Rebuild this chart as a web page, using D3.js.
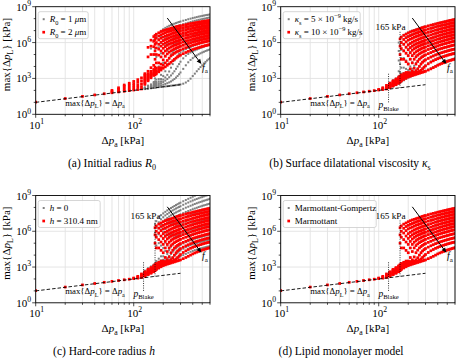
<!DOCTYPE html>
<html><head><meta charset="utf-8">
<script src="https://cdn.jsdelivr.net/npm/d3@7"></script>
<style>
body{margin:0;background:#fff}
svg{display:block}
text{font-family:"Liberation Serif","Times New Roman",serif;white-space:pre;fill:#000}
</style>
</head><body>
<svg id="c" width="456" height="359" font-family="Liberation Serif, serif"></svg>
<script>
// ---------------- DATA (values are log10 of max{Δp_L} in kPa) ----------------
const pressureLow  = [10,20,30,40,50,60,70,80,90,100,110,120];
const pressureHigh = [130,140,150,160,165,170,180,190,200,210,220,230,240,250,260,270,280,290,300,
                      320,340,360,380,400,420,440,460,480,500,520,540,560,580,600];
const xGridTicks   = [10,20,30,40,50,60,70,80,90,100,200,300,400,500,600];
const xLabelTicks  = [10,100];
const yLabelExps   = [0,3,6,9];
const yMinorExps   = [1,2,4,5,7,8];
const pBlake = 126;
const pInertial = 165;

// low-pressure columns (one list of values per pressure column)
const lowBase = [[1.02],[1.32],[1.5],[1.62],[1.72],[1.8],[1.87],[1.93],[1.98],[2.03],[2.07],[2.12]];
const lowStd  = [[1.02],[1.32],[1.5],[1.62],[1.72],[1.8],[1.87],[1.93],[1.98],[2.03,2.08],[2.07,2.15,2.22],[2.12,2.22,2.32,2.42]];
const lowR2   = [[1.02],[1.32],[1.5],[1.62],[1.72],[1.8,1.9,2.0],[1.87,1.98,2.1,2.22],[1.93,2.05,2.2,2.35,2.45],
                 [1.98,2.12,2.28,2.45,2.6],[2.03,2.2,2.38,2.56,2.75],[2.07,2.26,2.46,2.68,2.9],[2.12,2.32,2.55,2.8,3.05]];

// high-pressure curves (one per driving frequency f_a, lowest f first)
const highStd = [
 [2.6,2.8,2.95,3.1,6.3,6.45,6.6,6.7,6.8,6.88,6.95,7.0,7.05,7.1,7.15,7.2,7.25,7.29,7.32,7.39,7.45,7.5,7.55,7.6,7.64,7.68,7.72,7.75,7.79,7.82,7.85,7.88,7.9,7.93],
 [2.55,2.75,2.9,3.05,5.7,6.0,6.25,6.4,6.5,6.58,6.65,6.72,6.78,6.83,6.88,6.93,6.97,7.01,7.05,7.12,7.18,7.24,7.3,7.35,7.39,7.43,7.47,7.5,7.54,7.57,7.6,7.63,7.66,7.68],
 [2.5,2.7,2.85,3.0,5.0,5.5,5.85,6.05,6.2,6.28,6.35,6.43,6.5,6.55,6.6,6.65,6.7,6.74,6.78,6.85,6.91,6.97,7.03,7.08,7.13,7.17,7.21,7.25,7.29,7.32,7.35,7.38,7.41,7.43],
 [2.45,2.65,2.8,2.95,3.2,4.6,5.3,5.6,5.8,5.92,6.02,6.11,6.18,6.24,6.3,6.35,6.4,6.44,6.48,6.56,6.63,6.7,6.76,6.82,6.87,6.91,6.95,6.99,7.03,7.06,7.09,7.12,7.15,7.18],
 [2.42,2.6,2.75,2.9,3.1,3.3,4.6,5.1,5.4,5.57,5.7,5.8,5.88,5.94,6.0,6.05,6.1,6.15,6.2,6.28,6.35,6.42,6.49,6.55,6.6,6.65,6.69,6.73,6.77,6.8,6.84,6.87,6.9,6.92],
 [2.4,2.57,2.72,2.85,3.05,3.2,3.4,4.4,4.9,5.15,5.35,5.48,5.58,5.66,5.72,5.78,5.83,5.88,5.92,6.0,6.08,6.15,6.22,6.28,6.33,6.38,6.43,6.47,6.51,6.55,6.58,6.61,6.64,6.67],
 [2.37,2.53,2.68,2.8,2.98,3.12,3.3,3.5,4.2,4.6,4.9,5.08,5.22,5.32,5.4,5.47,5.53,5.58,5.63,5.72,5.8,5.87,5.94,6.0,6.06,6.11,6.16,6.2,6.24,6.28,6.32,6.35,6.38,6.41],
 [2.34,2.5,2.64,2.76,2.92,3.05,3.2,3.35,3.5,3.8,4.3,4.6,4.8,4.94,5.05,5.13,5.2,5.26,5.32,5.42,5.5,5.58,5.65,5.72,5.78,5.83,5.88,5.92,5.96,6.0,6.04,6.07,6.1,6.13],
 [2.31,2.47,2.6,2.72,2.86,2.98,3.12,3.25,3.35,3.46,3.6,3.85,4.2,4.42,4.6,4.72,4.82,4.9,4.97,5.07,5.16,5.25,5.33,5.4,5.46,5.51,5.56,5.6,5.64,5.68,5.72,5.75,5.78,5.81],
 [2.28,2.43,2.56,2.68,2.8,2.92,3.05,3.17,3.27,3.35,3.42,3.5,3.6,3.78,4.0,4.2,4.35,4.46,4.55,4.67,4.78,4.87,4.96,5.03,5.1,5.15,5.2,5.25,5.29,5.33,5.37,5.4,5.43,5.46],
 [2.25,2.4,2.52,2.64,2.75,2.86,2.98,3.1,3.2,3.27,3.33,3.39,3.45,3.51,3.58,3.68,3.8,3.93,4.05,4.22,4.36,4.47,4.57,4.65,4.72,4.78,4.83,4.88,4.93,4.97,5.01,5.04,5.07,5.1],
 [2.22,2.37,2.48,2.6,2.7,2.8,2.92,3.02,3.12,3.18,3.24,3.29,3.34,3.39,3.43,3.48,3.52,3.56,3.6,3.7,3.8,3.9,4.0,4.1,4.18,4.25,4.31,4.37,4.42,4.47,4.51,4.55,4.59,4.62]
];
const highR1 = [
 [2.25,2.4,5.5,6.2,6.4,6.55,6.8,6.98,7.12,7.23,7.32,7.4,7.47,7.53,7.58,7.63,7.68,7.72,7.76,7.83,7.89,7.95,8.0,8.05,8.09,8.13,8.17,8.2,8.23,8.26,8.29,8.31,8.33,8.35],
 [2.22,2.35,2.5,5.0,5.5,5.9,6.3,6.55,6.72,6.85,6.96,7.05,7.13,7.2,7.26,7.32,7.37,7.42,7.46,7.54,7.6,7.66,7.72,7.77,7.82,7.86,7.9,7.93,7.96,7.99,8.02,8.05,8.08,8.1],
 [2.2,2.3,2.45,2.7,3.0,4.8,5.6,5.95,6.2,6.37,6.5,6.61,6.7,6.78,6.85,6.91,6.97,7.02,7.07,7.15,7.23,7.29,7.35,7.41,7.46,7.5,7.54,7.58,7.62,7.65,7.68,7.71,7.74,7.76],
 [2.18,2.28,2.4,2.6,2.75,2.9,4.0,5.1,5.55,5.78,5.95,6.09,6.2,6.3,6.38,6.46,6.52,6.58,6.63,6.72,6.81,6.88,6.95,7.01,7.06,7.11,7.16,7.2,7.24,7.27,7.31,7.34,7.37,7.4],
 [2.16,2.25,2.35,2.5,2.6,2.7,2.95,3.3,4.3,4.9,5.3,5.5,5.65,5.77,5.87,5.96,6.03,6.1,6.16,6.26,6.35,6.43,6.5,6.57,6.63,6.68,6.73,6.78,6.82,6.86,6.9,6.93,6.96,6.99],
 [2.15,2.23,2.32,2.42,2.5,2.58,2.75,2.95,3.2,3.6,4.2,4.65,5.0,5.2,5.35,5.46,5.55,5.63,5.7,5.81,5.91,6.0,6.08,6.15,6.21,6.27,6.32,6.37,6.42,6.46,6.5,6.54,6.57,6.6],
 [2.14,2.21,2.29,2.37,2.42,2.48,2.6,2.75,2.9,3.08,3.3,3.58,3.9,4.2,4.5,4.72,4.9,5.04,5.15,5.31,5.44,5.54,5.63,5.71,5.78,5.84,5.9,5.95,6.0,6.05,6.09,6.13,6.17,6.2],
 [2.13,2.19,2.26,2.33,2.37,2.41,2.5,2.6,2.7,2.82,2.95,3.1,3.25,3.42,3.6,3.8,4.0,4.2,4.4,4.68,4.9,5.05,5.17,5.27,5.35,5.42,5.49,5.55,5.61,5.66,5.71,5.75,5.79,5.82],
 [2.12,2.17,2.22,2.27,2.3,2.33,2.38,2.43,2.48,2.54,2.6,2.67,2.75,2.85,2.95,3.07,3.2,3.35,3.5,3.8,4.1,4.35,4.55,4.7,4.83,4.93,5.02,5.1,5.17,5.23,5.29,5.34,5.39,5.43],
 [2.11,2.15,2.18,2.21,2.23,2.24,2.27,2.29,2.31,2.33,2.35,2.37,2.39,2.41,2.42,2.44,2.46,2.48,2.5,2.56,2.66,2.8,2.98,3.2,3.4,3.6,3.78,3.95,4.1,4.25,4.38,4.5,4.6,4.7]
];
const highR2 = [
 [3.4,5.6,6.2,6.5,6.6,6.7,6.82,6.92,7.0,7.05,7.1,7.15,7.2,7.24,7.28,7.32,7.35,7.38,7.4,7.45,7.5,7.55,7.59,7.62,7.65,7.68,7.71,7.73,7.76,7.78,7.8,7.82,7.84,7.86],
 [3.3,4.8,5.7,6.1,6.25,6.38,6.55,6.66,6.75,6.82,6.88,6.93,6.98,7.02,7.06,7.1,7.13,7.16,7.19,7.25,7.3,7.34,7.38,7.42,7.45,7.48,7.51,7.54,7.57,7.59,7.61,7.63,7.65,7.67],
 [3.2,3.6,5.0,5.65,5.85,6.0,6.22,6.36,6.46,6.54,6.6,6.66,6.72,6.77,6.81,6.85,6.89,6.92,6.95,7.01,7.07,7.11,7.16,7.2,7.24,7.27,7.3,7.33,7.36,7.38,7.41,7.43,7.45,7.47],
 [3.1,3.4,3.9,5.0,5.3,5.55,5.85,6.03,6.16,6.25,6.33,6.4,6.46,6.51,6.56,6.6,6.64,6.68,6.71,6.77,6.83,6.88,6.93,6.98,7.02,7.05,7.08,7.11,7.14,7.17,7.2,7.22,7.24,7.26],
 [3.0,3.3,3.6,4.1,4.6,5.0,5.45,5.7,5.86,5.97,6.06,6.14,6.2,6.25,6.3,6.35,6.39,6.43,6.47,6.54,6.6,6.65,6.7,6.75,6.79,6.83,6.87,6.9,6.93,6.96,6.99,7.01,7.03,7.05],
 [2.9,3.2,3.45,3.75,3.95,4.3,4.95,5.3,5.52,5.66,5.77,5.86,5.93,5.99,6.05,6.1,6.14,6.18,6.22,6.29,6.36,6.42,6.47,6.52,6.56,6.6,6.64,6.68,6.71,6.74,6.77,6.79,6.82,6.84],
 [2.8,3.1,3.35,3.6,3.7,3.85,4.3,4.8,5.1,5.3,5.44,5.55,5.63,5.7,5.77,5.82,5.87,5.92,5.96,6.04,6.11,6.17,6.23,6.28,6.33,6.37,6.41,6.45,6.48,6.51,6.54,6.57,6.6,6.62],
 [2.7,3.0,3.25,3.45,3.55,3.65,3.9,4.2,4.55,4.85,5.05,5.19,5.3,5.39,5.47,5.54,5.59,5.64,5.69,5.77,5.86,5.92,5.98,6.04,6.09,6.13,6.17,6.21,6.25,6.28,6.31,6.34,6.37,6.39],
 [2.6,2.9,3.15,3.35,3.42,3.5,3.7,3.9,4.1,4.3,4.5,4.7,4.88,5.0,5.1,5.19,5.26,5.32,5.38,5.48,5.57,5.65,5.72,5.78,5.83,5.88,5.93,5.97,6.01,6.04,6.07,6.1,6.13,6.16],
 [2.5,2.8,3.05,3.25,3.3,3.38,3.55,3.7,3.85,3.97,4.1,4.22,4.35,4.48,4.6,4.7,4.8,4.88,4.95,5.07,5.17,5.26,5.34,5.42,5.48,5.53,5.58,5.63,5.67,5.71,5.75,5.78,5.81,5.84]
];
const highKappa5 = [
 [2.65,2.85,3.0,6.0,6.35,6.5,6.65,6.75,6.85,6.93,7.0,7.05,7.1,7.15,7.2,7.24,7.28,7.32,7.35,7.41,7.48,7.53,7.58,7.63,7.67,7.7,7.74,7.77,7.81,7.84,7.87,7.9,7.93,7.95],
 [2.6,2.8,2.95,5.3,5.8,6.05,6.3,6.45,6.55,6.63,6.7,6.76,6.82,6.87,6.92,6.96,7.0,7.04,7.08,7.15,7.21,7.27,7.33,7.38,7.42,7.46,7.5,7.53,7.57,7.6,7.63,7.65,7.68,7.7],
 [2.55,2.75,2.9,4.5,5.0,5.4,5.85,6.08,6.22,6.32,6.4,6.47,6.53,6.58,6.63,6.68,6.72,6.76,6.8,6.87,6.93,6.99,7.05,7.1,7.15,7.19,7.23,7.27,7.31,7.34,7.37,7.4,7.43,7.45],
 [2.5,2.7,2.85,3.6,4.2,4.7,5.35,5.65,5.85,5.97,6.06,6.14,6.2,6.26,6.32,6.37,6.42,6.46,6.5,6.58,6.66,6.72,6.78,6.84,6.89,6.93,6.97,7.01,7.05,7.08,7.11,7.14,7.17,7.2],
 [2.45,2.63,2.8,3.2,3.5,3.9,4.7,5.15,5.45,5.62,5.74,5.83,5.9,5.96,6.02,6.07,6.12,6.17,6.21,6.29,6.37,6.44,6.5,6.56,6.61,6.66,6.71,6.75,6.79,6.82,6.85,6.88,6.91,6.93],
 [2.4,2.57,2.72,3.0,3.2,3.4,3.9,4.5,4.95,5.22,5.4,5.51,5.6,5.68,5.74,5.8,5.85,5.9,5.94,6.02,6.1,6.17,6.24,6.3,6.35,6.4,6.45,6.49,6.53,6.56,6.59,6.62,6.65,6.68],
 [2.35,2.5,2.65,2.85,3.0,3.15,3.45,3.8,4.25,4.65,4.95,5.12,5.25,5.34,5.42,5.49,5.55,5.6,5.65,5.74,5.82,5.89,5.96,6.02,6.07,6.12,6.17,6.21,6.25,6.29,6.33,6.36,6.39,6.42],
 [2.3,2.45,2.6,2.75,2.88,3.0,3.25,3.45,3.7,4.0,4.35,4.65,4.85,4.98,5.08,5.16,5.22,5.28,5.33,5.43,5.51,5.59,5.66,5.73,5.79,5.84,5.89,5.93,5.97,6.01,6.05,6.08,6.11,6.14],
 [2.27,2.42,2.55,2.68,2.8,2.9,3.1,3.28,3.42,3.58,3.8,4.05,4.3,4.5,4.65,4.76,4.85,4.93,4.99,5.09,5.18,5.27,5.35,5.42,5.48,5.53,5.58,5.62,5.66,5.7,5.74,5.77,5.8,5.83],
 [2.24,2.38,2.5,2.62,2.72,2.82,2.98,3.12,3.25,3.37,3.48,3.58,3.7,3.86,4.05,4.24,4.4,4.51,4.6,4.72,4.83,4.92,5.0,5.08,5.14,5.19,5.24,5.28,5.32,5.36,5.4,5.43,5.46,5.49],
 [2.22,2.35,2.47,2.58,2.68,2.77,2.9,3.03,3.15,3.25,3.33,3.41,3.48,3.55,3.62,3.72,3.85,3.98,4.1,4.27,4.42,4.52,4.62,4.7,4.76,4.82,4.87,4.92,4.97,5.01,5.05,5.08,5.11,5.14],
 [2.2,2.33,2.44,2.55,2.64,2.72,2.84,2.96,3.06,3.14,3.22,3.29,3.35,3.4,3.45,3.5,3.55,3.6,3.65,3.75,3.85,3.95,4.05,4.15,4.23,4.3,4.36,4.42,4.47,4.52,4.56,4.6,4.64,4.67]
];
const highH0 = [
 [2.7,2.9,3.05,3.2,6.6,6.85,7.15,7.35,7.5,7.63,7.75,7.86,7.95,8.04,8.12,8.2,8.27,8.34,8.4,8.52,8.62,8.72,8.81,8.9,8.98,9.05,9.11,9.17,9.23,9.28,9.33,9.37,9.41,9.45],
 [2.65,2.85,3.0,3.15,5.9,6.3,6.75,7.0,7.18,7.33,7.45,7.56,7.66,7.75,7.83,7.91,7.98,8.04,8.1,8.22,8.32,8.41,8.5,8.58,8.65,8.71,8.77,8.83,8.88,8.93,8.98,9.02,9.06,9.1],
 [2.6,2.8,2.95,3.1,5.0,5.7,6.3,6.6,6.82,6.98,7.12,7.24,7.34,7.43,7.51,7.58,7.65,7.71,7.77,7.88,7.98,8.06,8.14,8.22,8.29,8.35,8.41,8.46,8.51,8.56,8.6,8.64,8.68,8.72],
 [2.55,2.75,2.9,3.05,3.3,4.8,5.75,6.15,6.42,6.61,6.76,6.88,6.99,7.08,7.16,7.23,7.3,7.36,7.42,7.52,7.62,7.7,7.78,7.85,7.91,7.97,8.03,8.08,8.13,8.17,8.21,8.25,8.29,8.32],
 [2.5,2.7,2.85,3.0,3.2,3.5,5.0,5.6,5.95,6.18,6.36,6.49,6.6,6.7,6.78,6.85,6.92,6.98,7.04,7.14,7.23,7.31,7.39,7.46,7.52,7.58,7.63,7.68,7.73,7.77,7.81,7.85,7.89,7.92],
 [2.46,2.65,2.8,2.95,3.1,3.3,3.7,4.8,5.35,5.67,5.9,6.05,6.18,6.28,6.37,6.45,6.51,6.57,6.63,6.73,6.82,6.9,6.97,7.04,7.1,7.16,7.21,7.26,7.31,7.35,7.39,7.42,7.46,7.49],
 [2.42,2.6,2.75,2.9,3.02,3.15,3.45,3.9,4.6,5.05,5.4,5.6,5.75,5.86,5.95,6.03,6.09,6.15,6.21,6.31,6.4,6.48,6.55,6.62,6.68,6.73,6.78,6.83,6.87,6.91,6.95,6.98,7.02,7.05],
 [2.38,2.55,2.7,2.85,2.95,3.05,3.3,3.55,3.9,4.35,4.8,5.05,5.25,5.39,5.5,5.59,5.66,5.72,5.78,5.88,5.97,6.05,6.12,6.19,6.25,6.3,6.35,6.39,6.43,6.47,6.51,6.54,6.57,6.6],
 [2.34,2.5,2.65,2.8,2.88,2.97,3.17,3.38,3.6,3.82,4.1,4.42,4.7,4.87,5.0,5.11,5.2,5.27,5.33,5.44,5.53,5.61,5.68,5.75,5.81,5.86,5.91,5.95,5.99,6.03,6.07,6.1,6.13,6.16],
 [2.3,2.46,2.6,2.74,2.82,2.9,3.07,3.25,3.42,3.58,3.75,3.92,4.1,4.28,4.45,4.59,4.7,4.79,4.86,4.98,5.08,5.16,5.24,5.31,5.37,5.42,5.47,5.51,5.55,5.59,5.63,5.66,5.69,5.72],
 [2.27,2.42,2.55,2.68,2.75,2.83,2.98,3.13,3.27,3.39,3.5,3.61,3.72,3.83,3.95,4.08,4.2,4.31,4.4,4.54,4.66,4.74,4.83,4.9,4.96,5.01,5.06,5.1,5.14,5.18,5.22,5.25,5.28,5.31],
 [2.24,2.38,2.5,2.62,2.69,2.76,2.89,3.02,3.13,3.23,3.32,3.4,3.48,3.55,3.62,3.69,3.76,3.83,3.9,4.0,4.1,4.2,4.28,4.35,4.41,4.46,4.51,4.55,4.59,4.63,4.67,4.7,4.73,4.75]
];

const GREY = "#808080", RED = "#ff0000";

// ---------------- LAYOUT ----------------
const svg = d3.select("#c");
const PW = 174.3;
const panels = [
 {L:35.7, T:6.7, B:114.3, capX:112, capY:166.5, cap:[{t:"(a) Initial radius "},{t:"R",i:1},{t:"0",sub:1}],
  legW:50, leg:[[{t:"R",i:1},{t:"0",sub:1},{t:" = 1 "},{t:"μ",i:1},{t:"m"}],[{t:"R",i:1},{t:"0",sub:1},{t:" = 2 "},{t:"μ",i:1},{t:"m"}]],
  grey:{low:lowBase,high:highR1}, red:{low:lowR2,high:highR2}, marks:false},
 {L:280.7, T:6.7, B:114.3, capX:350, capY:166.5, cap:[{t:"(b) Surface dilatational viscosity "},{t:"κ",i:1},{t:"s",sub:1}],
  legW:77, leg:[[{t:"κ",i:1},{t:"s",sub:1},{t:" = 5 × 10"},{t:"−9",sup:1},{t:" kg/s"}],[{t:"κ",i:1},{t:"s",sub:1},{t:" = 10 × 10"},{t:"−9",sup:1},{t:" kg/s"}]],
  grey:{low:lowStd,high:highKappa5}, red:{low:lowStd,high:highStd}, marks:true},
 {L:35.7, T:195.5, B:302.8, capX:104, capY:354.5, cap:[{t:"(c) Hard-core radius "},{t:"h",i:1}],
  legW:62, leg:[[{t:"h",i:1},{t:" = 0"}],[{t:"h",i:1},{t:" = 310.4 nm"}]],
  grey:{low:lowStd,high:highH0}, red:{low:lowStd,high:highStd}, marks:true},
 {L:280.7, T:195.5, B:302.8, capX:341, capY:354.5, cap:[{t:"(d) Lipid monolayer model"}],
  legW:93, leg:[[{t:"Marmottant-Gompertz"}],[{t:"Marmottant"}]],
  grey:{low:lowStd,high:highStd}, red:{low:lowStd,high:highStd}, marks:true}
];

function rich(sel, parts, fs){
  let shift = 0;
  parts.forEach(p=>{
    const ts = sel.append("tspan").text(p.t);
    const target = p.sub ? fs*0.28 : (p.sup ? -fs*0.42 : 0);
    if(target !== shift) ts.attr("dy", target - shift);
    shift = target;
    if(p.sub || p.sup) ts.attr("font-size", fs*0.7);
    if(p.i) ts.attr("font-style","italic");
  });
  return sel;
}

panels.forEach((P,pi)=>{
  const R = P.L + PW;
  const x = d3.scaleLog().domain([10,600]).range([P.L,R]);
  const y = d3.scaleLog().domain([1,1e9]).range([P.B,P.T]);
  const g = svg.append("g");
  const cid = "clip"+pi;
  svg.append("clipPath").attr("id",cid).append("rect")
     .attr("x",P.L).attr("y",P.T).attr("width",PW).attr("height",P.B-P.T);

  // grid
  g.selectAll(null).data(xGridTicks).enter().append("line")
   .attr("x1",d=>x(d)).attr("x2",d=>x(d)).attr("y1",P.T).attr("y2",P.B)
   .attr("stroke","#e2e2e2").attr("stroke-width",0.9);
  g.selectAll(null).data([3,6]).enter().append("line")
   .attr("x1",P.L).attr("x2",R).attr("y1",d=>y(Math.pow(10,d))).attr("y2",d=>y(Math.pow(10,d)))
   .attr("stroke","#e2e2e2").attr("stroke-width",0.9);

  // data points
  const dg = g.append("g").attr("clip-path","url(#"+cid+")");
  function drawSeries(s,color,size){
    const pts = [];
    s.low.forEach((col,i)=>col.forEach(v=>pts.push([pressureLow[i],v])));
    s.high.forEach(curve=>curve.forEach((v,i)=>pts.push([pressureHigh[i],v])));
    dg.append("g").selectAll("rect").data(pts).enter().append("rect")
      .attr("x",d=>x(d[0])-size/2).attr("y",d=>y(Math.pow(10,d[1]))-size/2)
      .attr("width",size).attr("height",size).attr("fill",color);
  }
  drawSeries(P.grey,GREY,2.0);
  drawSeries(P.red,RED,2.7);

  // dashed y = x line
  g.append("line").attr("x1",x(10)).attr("y1",y(10)).attr("x2",x(300)).attr("y2",y(300))
   .attr("stroke","#000").attr("stroke-width",0.9).attr("stroke-dasharray","3.5,2");
  g.append("text").attr("x",P.L+29.5).attr("y",P.B-8.5).attr("font-size",8.8)
   .call(s=>rich(s,[{t:"max{Δ"},{t:"p",i:1},{t:"L",sub:1},{t:"} = Δ"},{t:"p",i:1},{t:"a",sub:1}],8.8));

  if(P.marks){
    g.append("line").attr("x1",x(pBlake)).attr("x2",x(pBlake)).attr("y1",y(10)).attr("y2",y(Math.pow(10,3.4)))
     .attr("stroke","#000").attr("stroke-width",0.8).attr("stroke-dasharray","1,1.3");
    g.append("text").attr("x",x(pBlake)).attr("y",P.B-6).attr("font-size",9.5).attr("text-anchor","middle")
     .call(s=>rich(s,[{t:"p",i:1},{t:"Blake",sub:1}],9.5));
    g.append("line").attr("x1",x(pInertial)).attr("x2",x(pInertial)).attr("y1",y(Math.pow(10,2.2))).attr("y2",y(Math.pow(10,6.9)))
     .attr("stroke","#000").attr("stroke-width",0.8).attr("stroke-dasharray","1,1.3");
    g.append("text").attr("x",x(pInertial)-9.5).attr("y",P.T+23.5).attr("font-size",9.2).attr("text-anchor","middle")
     .text("165 kPa");
  }

  // arrow f_a
  const ax1=x(220), ay1=y(Math.pow(10,8.05)), ax2=x(490), ay2=y(Math.pow(10,4.2));
  const ang = Math.atan2(ay2-ay1, ax2-ax1);
  const hl=5, hw=2.2;
  g.append("line").attr("x1",ax1).attr("y1",ay1).attr("x2",ax2-Math.cos(ang)*hl*0.8).attr("y2",ay2-Math.sin(ang)*hl*0.8)
   .attr("stroke","#000").attr("stroke-width",1);
  const bx=ax2-Math.cos(ang)*hl, by=ay2-Math.sin(ang)*hl;
  g.append("path").attr("d",`M${ax2},${ay2}L${bx-Math.sin(ang)*hw},${by+Math.cos(ang)*hw}L${bx+Math.sin(ang)*hw},${by-Math.cos(ang)*hw}Z`)
   .attr("fill","#000");
  g.append("text").attr("x",ax2+0.5).attr("y",ay2+6.5).attr("font-size",10)
   .call(s=>rich(s,[{t:"f",i:1},{t:"a",sub:1}],10));

  // frame
  g.append("rect").attr("x",P.L).attr("y",P.T).attr("width",PW).attr("height",P.B-P.T)
   .attr("fill","none").attr("stroke","#000").attr("stroke-width",0.9);

  // ticks
  g.selectAll(null).data(xGridTicks).enter().append("line")
   .attr("x1",d=>x(d)).attr("x2",d=>x(d)).attr("y1",P.B).attr("y2",d=>P.B+(xLabelTicks.includes(d)?3.5:2))
   .attr("stroke","#000").attr("stroke-width",0.7);
  g.selectAll(null).data(yLabelExps.concat(yMinorExps)).enter().append("line")
   .attr("y1",d=>y(Math.pow(10,d))).attr("y2",d=>y(Math.pow(10,d)))
   .attr("x1",P.L).attr("x2",d=>P.L-(yLabelExps.includes(d)?3.5:2))
   .attr("stroke","#000").attr("stroke-width",0.7);

  xLabelTicks.forEach(t=>{
    g.append("text").attr("x",x(t)+1).attr("y",P.B+14.2).attr("font-size",11).attr("text-anchor","middle")
     .call(s=>rich(s,[{t:"10"},{t:String(Math.round(Math.log10(t))),sup:1}],11));
  });
  yLabelExps.forEach(e=>{
    g.append("text").attr("x",P.L-4.5).attr("y",y(Math.pow(10,e))+4).attr("font-size",11).attr("text-anchor","end")
     .call(s=>rich(s,[{t:"10"},{t:String(e),sup:1}],11));
  });

  // axis labels
  g.append("text").attr("x",(P.L+R)/2).attr("y",P.B+29.5).attr("font-size",11).attr("text-anchor","middle")
   .call(s=>rich(s,[{t:"Δ"},{t:"p",i:1},{t:"a",sub:1},{t:" [kPa]"}],11));
  g.append("text").attr("transform",`translate(${P.L-26},${(P.T+P.B)/2-6}) rotate(-90)`)
   .attr("font-size",11).attr("text-anchor","middle")
   .call(s=>rich(s,[{t:"max{Δ"},{t:"p",i:1},{t:"L",sub:1},{t:"} [kPa]"}],11));

  // legend
  const lg = g.append("g");
  lg.append("rect").attr("x",P.L+2.5).attr("y",P.T+5).attr("width",P.legW).attr("height",27).attr("rx",2)
    .attr("fill","#fff").attr("fill-opacity",0.85).attr("stroke","#cccccc").attr("stroke-width",0.8);
  [[GREY,2.0],[RED,2.7]].forEach((m,i)=>{
    const cy = P.T+12.5+i*13;
    lg.append("rect").attr("x",P.L+8-m[1]/2).attr("y",cy-m[1]/2).attr("width",m[1]).attr("height",m[1]).attr("fill",m[0]);
    lg.append("text").attr("x",P.L+14).attr("y",cy+3).attr("font-size",9)
      .call(s=>rich(s,P.leg[i],9));
  });

  // caption
  svg.append("text").attr("x",P.capX).attr("y",P.capY).attr("font-size",11.5).attr("text-anchor","middle")
   .call(s=>rich(s,P.cap,11.5));
});
</script>
</body></html>
